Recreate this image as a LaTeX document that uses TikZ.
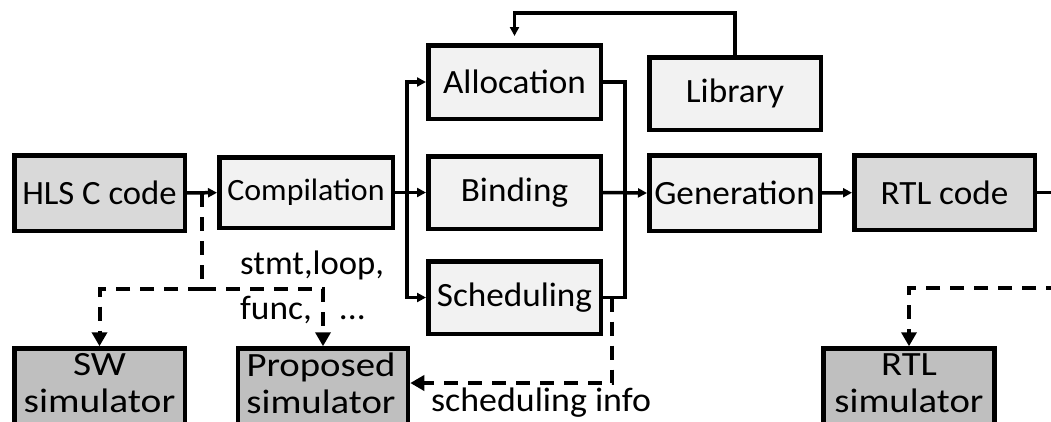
\documentclass[tikz,border=0pt]{standalone}
\usepackage{fontspec}
\usepackage{graphicx}
\setmainfont{Carlito}
\usetikzlibrary{arrows.meta}
\definecolor{gA}{HTML}{D9D9D9}
\definecolor{gB}{HTML}{F2F2F2}
\definecolor{gC}{HTML}{BFBFBF}
\newcommand\bigf{\fontsize{34}{37}\selectfont}
\newcommand\midf{\fontsize{31}{37}\selectfont}
\newcommand\sx[2]{\scalebox{#1}[1]{#2}}
\begin{document}
\begin{tikzpicture}[x=1pt,y=-1pt,
  box/.style={draw, line width=4.5pt, fill=gB, inner sep=0pt, font=\bigf},
  simbox/.style={draw, line width=4.5pt, fill=gC, inner sep=0pt, anchor=north, minimum height=100},
  simtext/.style={align=center, font=\bigf, inner sep=0pt},
  lbl/.style={anchor=west, font=\bigf, inner sep=0pt},
  con/.style={line width=3.5pt},
  arrS/.style={con, -{Triangle[length=9pt,width=9pt]}},
  dsh/.style={line width=4pt, dash pattern=on 14pt off 10pt},
  dshL/.style={dsh, -{Triangle[length=14pt,width=15pt]}}
]
\clip (0,0) rectangle (1051,421);
\fill[white] (0,0) rectangle (1051,421);

% boxes
\node[box, fill=gA, minimum width=170.5, minimum height=75.5] (hls) at (99.5,193) {\sx{1.02}{HLS C code}};
\node[box, font=\midf, minimum width=173.5, minimum height=70.5] (comp) at (306,192.5) {\sx{1.03}{Compilation}};
\node[box, minimum width=172.5, minimum height=73.5] (alloc) at (514.5,82) {\sx{1.035}{Allocation}};
\node[box, minimum width=172.5, minimum height=72.5] (bind) at (514.5,192.5) {\sx{1.035}{Binding}};
\node[box, minimum width=172.5, minimum height=72.5] (sched) at (514.5,297.5) {\sx{1.035}{Scheduling}};
\node[box, minimum width=171.5, minimum height=72.5] (lib) at (735,93.5) {\sx{1.035}{Library}};
\node[box, minimum width=170.5, minimum height=75.5] (gen) at (734.5,193) {\sx{1.035}{Generation}};
\node[box, fill=gA, minimum width=180.5, minimum height=74.5] (rtl) at (944.5,192.5) {\sx{1.035}{RTL code}};

\node[simbox, minimum width=170.5] (swsim) at (99.5,346.25) {};
\node[simbox, minimum width=170] (prop) at (323,346.25) {};
\node[simbox, minimum width=171] (rtlsim) at (909,346.25) {};
\node[simtext] (swt) at (99.5,383) {\sx{1.16}{SW}\\\sx{1.16}{simulator}};
\node[simtext] (propt) at (321,383) {\sx{1.14}{Proposed}\\\sx{1.14}{simulator}};
\node[simtext] (rtlt) at (909,383) {\sx{1.14}{RTL}\\\sx{1.14}{simulator}};

% labels
\node[lbl] (l1) at (240,265) {\sx{1.02}{stmt,loop,}};
\node[lbl] (l2) at (240,310) {\sx{1.04}{func,\hspace{26pt}...}};
\node[lbl] (l3) at (431,403) {\sx{1.055}{scheduling info}};

% coordinates
\coordinate (bus) at (407,192.5);
\coordinate (ob) at (625,192.5);
\coordinate (fbtop) at (735,13);
\coordinate (rtlout) at (1060,192.5);
\coordinate (tap) at (202,193);
\coordinate (jn) at (202,289);
\coordinate (st) at (612,297.5);
\coordinate (sd) at (612,383);
\coordinate (rtap) at (1060,288);

% solid connectors
\draw[arrS] (hls) -- (comp);
\draw[con] (comp.east) -- (bus);
\draw[arrS] (bus) |- (alloc.west);
\draw[arrS] (bus) |- (sched.west);
\draw[arrS] (bus) -- (bind.west);
\draw[con] (alloc.east) -| (ob) |- (sched.east);
\draw[arrS] (bind.east) -- (gen.west);
\draw[arrS] (gen) -- (rtl);
\draw[con] (rtl.east) -- (rtlout);
\draw[arrS, shorten >=7pt] (lib.north) -- (fbtop) -| (alloc.north);

% dashed connectors
\draw[dsh] (tap) -- (jn);
\draw[dshL] (jn) -| (swsim.north);
\draw[dshL] (jn) -| (prop.north);
\draw[dshL] (st) -- (sd) -- (sd -| prop.east);
\draw[dshL] (rtap) -| (rtlsim.north);
\end{tikzpicture}
\end{document}
